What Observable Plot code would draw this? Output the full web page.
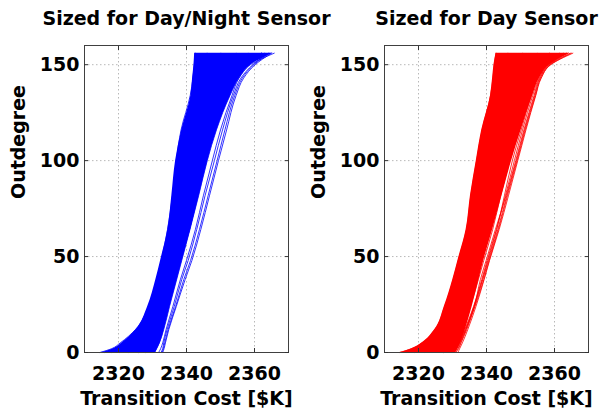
<!DOCTYPE html>
<html>
<head>
<meta charset="utf-8">
<script src="https://cdn.jsdelivr.net/npm/d3@7"></script>
<script src="https://cdn.jsdelivr.net/npm/@observablehq/plot@0.6"></script>
<style>
  html, body { margin: 0; padding: 0; background: #fff; }
  #wrap { position: relative; width: 603px; height: 408px; overflow: hidden; background: #fff; }
  #left, #right { position: absolute; top: 0; }
  #left { left: 0; }
  #right { left: 301px; }
  svg { display: block; overflow: visible; }
</style>
</head>
<body>
<div id="wrap"><div id="left"></div><div id="right"></div></div>
<script>
// Outdegree levels at which each run's transition cost is read
const outdegree = [0, 2, 5, 12, 24, 38, 48, 64, 82, 100, 116, 134, 143, 150, 156];

// Panel titles / labels / ticks
const titles = ["Sized for Day/Night Sensor", "Sized for Day Sensor"];
const xLabel = "Transition Cost [$K]";
const yLabel = "Outdegree";
const xTicks = [2320, 2340, 2360];
const yTicks = [0, 50, 100, 150];

// Day/Night sensor: dense band of runs (lower / upper cost edge)
const dayNightLo = [2315, 2318.5, 2321, 2325.2, 2328.6, 2331, 2332.4, 2334.5, 2335.7, 2336.8, 2338.6, 2341.3, 2341.8, 2342.2, 2342.4];
const dayNightHi = [2331, 2331.5, 2332.3, 2333.5, 2335.2, 2337.3, 2338.8, 2341.2, 2343.8, 2346.3, 2349, 2353, 2355.6, 2359, 2365.5];
// Day/Night sensor: individual runs
const dayNightRuns = [
  [2314.5, 2318, 2320.5, 2325, 2328.8, 2331.2, 2332.6, 2334.4, 2335.9, 2337, 2338.4, 2341.1, 2341.9, 2342.3, 2342.6],
  [2316, 2319.5, 2322.5, 2326.5, 2330, 2332.4, 2333.8, 2335.9, 2337.6, 2339.2, 2340.4, 2343, 2344, 2344.8, 2346],
  [2318, 2321, 2324, 2327.5, 2331, 2333.5, 2335, 2337.2, 2339, 2340.8, 2342.6, 2345.5, 2347, 2348.5, 2350],
  [2320.5, 2323.5, 2326, 2329, 2332.2, 2334.6, 2336, 2338.4, 2340.4, 2342.6, 2344.8, 2348, 2350, 2352, 2354.5],
  [2323, 2325.5, 2327.6, 2330.2, 2333.2, 2335.6, 2337.2, 2339.6, 2341.8, 2344.2, 2346.6, 2350, 2352.4, 2355, 2358],
  [2326, 2328, 2329.6, 2331.6, 2334.2, 2336.5, 2338, 2340.5, 2343, 2345.5, 2348, 2351.8, 2354.4, 2357.5, 2362],
  [2328, 2329.6, 2331, 2332.5, 2334.6, 2336.9, 2338.3, 2340.9, 2343.3, 2345.8, 2348.4, 2352.4, 2355, 2358, 2363],
  [2330.5, 2331.2, 2332, 2333.3, 2335, 2337.1, 2338.6, 2341, 2343.6, 2346.1, 2348.8, 2352.8, 2355.4, 2358.8, 2365.8],
  [2331.8, 2332.4, 2333, 2334, 2336, 2338.2, 2340, 2342.6, 2345, 2347.6, 2350, 2353.4, 2355.4, 2358.5, 2362],
  [2332.5, 2333, 2333.3, 2334.3, 2336.4, 2338.6, 2340.5, 2343, 2345.5, 2348.2, 2350.6, 2353.8, 2356, 2359.5, 2364],
  [2332.8, 2333.2, 2333.6, 2334.6, 2336.8, 2339.2, 2341.2, 2343.8, 2346.4, 2349, 2351.3, 2354.2, 2356.4, 2359.8, 2364.5],
  [2333, 2333.4, 2333.8, 2334.8, 2337, 2339.6, 2341.6, 2344.2, 2346.8, 2349.4, 2351.8, 2354.6, 2356.8, 2360.2, 2365]
];

// Day sensor: dense band of runs (lower / upper cost edge)
const dayLo = [2314.5, 2318, 2321, 2324.8, 2327.6, 2330.1, 2331.6, 2334, 2335.3, 2337, 2338.6, 2341.2, 2341.8, 2342.2, 2342.8];
const dayHi = [2331, 2331.6, 2332.4, 2333.8, 2335.8, 2337.8, 2339.2, 2341.8, 2344.6, 2347.4, 2350.2, 2353.6, 2355.6, 2358.6, 2364.5];
// Day sensor: individual runs
const dayRuns = [
  [2314.5, 2318, 2321, 2324.8, 2327.7, 2330.2, 2331.7, 2334.1, 2335.4, 2337.1, 2338.7, 2341.2, 2341.9, 2342.3, 2342.8],
  [2316.5, 2320, 2322.8, 2326.2, 2329.4, 2331.8, 2333.3, 2335.6, 2337.2, 2339, 2340.6, 2343.2, 2344.2, 2345, 2346.2],
  [2319, 2322, 2324.6, 2327.8, 2331, 2333.4, 2335, 2337.4, 2339.2, 2341.2, 2343, 2345.8, 2347.2, 2348.6, 2350.5],
  [2322, 2324.6, 2326.8, 2329.6, 2332.6, 2335, 2336.6, 2339, 2341, 2343.2, 2345.2, 2348.2, 2350, 2352, 2354.8],
  [2325, 2327.2, 2329, 2331.4, 2334, 2336.4, 2338, 2340.4, 2342.6, 2345, 2347.2, 2350.4, 2352.4, 2355, 2358.5],
  [2327.5, 2329.2, 2330.6, 2332.6, 2335.2, 2337.6, 2339.2, 2341.8, 2344.2, 2346.8, 2349.2, 2352.4, 2354.4, 2357, 2361.5],
  [2329.8, 2330.8, 2331.8, 2333.6, 2336.2, 2338.6, 2340.2, 2342.9, 2345.6, 2348.2, 2350.6, 2353.6, 2355.4, 2358.2, 2363.5],
  [2330.4, 2331.3, 2332.2, 2333.9, 2336.3, 2338.8, 2340.4, 2343, 2345.3, 2347.6, 2350.2, 2353.2, 2355, 2357.8, 2362.5],
  [2330, 2331, 2332, 2333.8, 2336.4, 2338.2, 2339.9, 2342.6, 2345.8, 2348.6, 2351, 2354, 2355.6, 2358.4, 2364],
  [2330.8, 2331.6, 2332.4, 2334, 2336.6, 2339.2, 2340.8, 2343.5, 2346.2, 2349, 2351.4, 2354.4, 2356, 2358.8, 2365],
  [2331, 2331.8, 2332.5, 2334.2, 2336.5, 2338.9, 2340.6, 2343.3, 2346, 2348.8, 2351.2, 2354.2, 2355.8, 2358.6, 2364.6],
  [2331.6, 2332.1, 2332.9, 2334.5, 2336.9, 2339.3, 2340.9, 2343.7, 2346.5, 2349.2, 2351.6, 2354.5, 2356.1, 2358.9, 2365.4]
];

function runsTable(runs) {
  return runs.flatMap((xs, run) => xs.map((cost, j) => ({run, cost, outdegree: outdegree[j]})));
}
function bandTable(lo, hi) {
  return outdegree.map((o, j) => ({outdegree: o, lo: lo[j], hi: hi[j]}));
}

function panel({title, lo, hi, runs, color, width, marginLeft, marginRight}) {
  const font = "'DejaVu Sans', 'Liberation Sans', sans-serif";
  const tickStroke = "#333";
  return Plot.plot({
    width, height: 408,
    marginLeft, marginRight, marginTop: 45, marginBottom: 56,
    x: {domain: [2310, 2370]},
    y: {domain: [0, 160]},
    style: {fontFamily: font, fontWeight: "bold", fontSize: "19px", background: "transparent", color: "black", overflow: "visible"},
    marks: [
      Plot.gridX(xTicks, {stroke: "#b8b8b8", strokeOpacity: 1, strokeDasharray: "1.5,2.5"}),
      Plot.gridY(yTicks.filter(d => d > 0), {stroke: "#b8b8b8", strokeOpacity: 1, strokeDasharray: "1.5,2.5"}),
      Plot.areaX(bandTable(lo, hi), {y: "outdegree", x1: "lo", x2: "hi", fill: color, curve: "monotone-y"}),
      Plot.line(runsTable(runs), {x: "cost", y: "outdegree", z: "run", stroke: color, strokeWidth: 0.8, curve: "monotone-y"}),
      Plot.frame({stroke: "#404040", strokeWidth: 1}),
      // inward tick marks on all four sides
      Plot.axisX({anchor: "bottom", ticks: xTicks, tickSize: 4, dy: -4, tickFormat: () => "", label: null, stroke: tickStroke}),
      Plot.axisX({anchor: "top", ticks: xTicks, tickSize: 4, dy: 4, tickFormat: () => "", label: null, stroke: tickStroke}),
      Plot.axisY({anchor: "left", ticks: yTicks, tickSize: 4, dx: 4, tickFormat: () => "", label: null, stroke: tickStroke}),
      Plot.axisY({anchor: "right", ticks: yTicks, tickSize: 4, dx: -4, tickFormat: () => "", label: null, stroke: tickStroke}),
      // tick labels
      Plot.axisX({anchor: "bottom", ticks: xTicks, tickSize: 0, tickPadding: 14, tickFormat: d => String(d), label: null, fontSize: 19, fontWeight: "bold", fill: "black"}),
      Plot.axisY({anchor: "left", ticks: yTicks, tickSize: 0, tickPadding: 5, tickFormat: d => String(d), label: null, fontSize: 19, fontWeight: "bold", fill: "black"}),
      // title and axis labels
      Plot.text([title], {frameAnchor: "top", lineAnchor: "middle", dy: -27, fontSize: 19, fontWeight: "bold", fill: "black"}),
      Plot.text([xLabel], {frameAnchor: "bottom", lineAnchor: "middle", dy: 46, fontSize: 19, fontWeight: "bold", fill: "black"}),
      Plot.text([yLabel], {frameAnchor: "left", lineAnchor: "middle", dx: -66, rotate: -90, fontSize: 19, fontWeight: "bold", fill: "black"})
    ]
  });
}

document.getElementById("left").append(panel({
  title: titles[0], lo: dayNightLo, hi: dayNightHi, runs: dayNightRuns, color: "#0000ff",
  width: 301, marginLeft: 84, marginRight: 13
}));
document.getElementById("right").append(panel({
  title: titles[1], lo: dayLo, hi: dayHi, runs: dayRuns, color: "#ff0000",
  width: 302, marginLeft: 83, marginRight: 15
}));
</script>
</body>
</html>
